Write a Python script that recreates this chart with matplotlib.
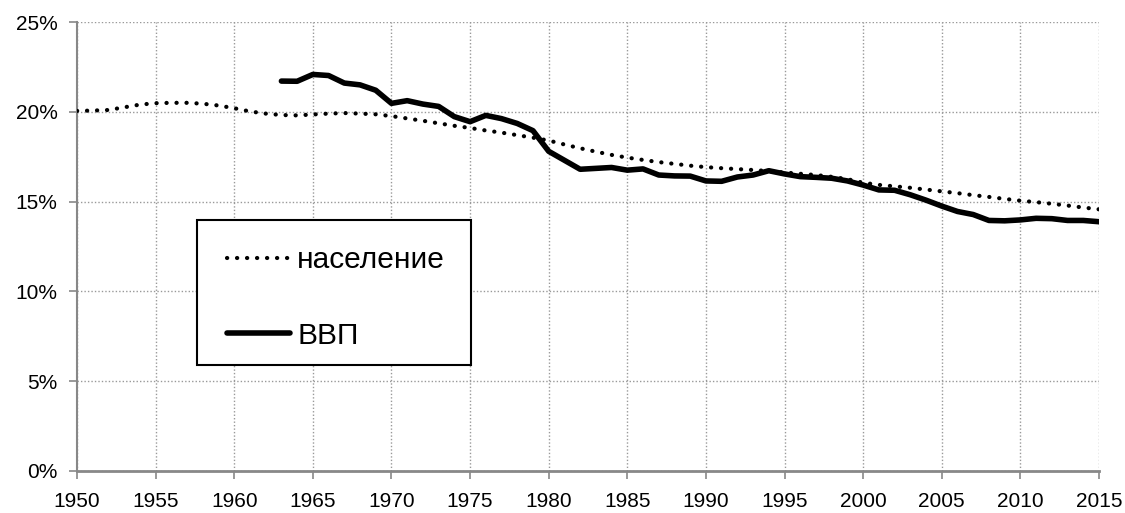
import matplotlib.pyplot as plt
from matplotlib.patches import Rectangle
from matplotlib.ticker import FuncFormatter

# population share, %
pop_years = list(range(1950, 2016))
pop = [20.05, 20.07, 20.1, 20.25, 20.4, 20.48, 20.5, 20.5, 20.45, 20.35,
       20.2, 20.02, 19.9, 19.82, 19.8, 19.85, 19.9, 19.93, 19.9, 19.86,
       19.76, 19.63, 19.5, 19.36, 19.22, 19.1, 18.96, 18.84, 18.7, 18.56,
       18.4, 18.18, 17.97, 17.78, 17.6, 17.45, 17.32, 17.2, 17.1, 17.0,
       16.92, 16.86, 16.81, 16.76, 16.7, 16.62, 16.55, 16.48, 16.38, 16.25,
       16.05, 15.93, 15.85, 15.77, 15.67, 15.57, 15.47, 15.36, 15.26, 15.15,
       15.05, 14.97, 14.88, 14.78, 14.67, 14.57]

# GDP share, %
gdp_years = list(range(1963, 2016))
gdp = [21.71, 21.7, 22.08, 22.02, 21.6, 21.5, 21.2, 20.47, 20.62, 20.43,
       20.3, 19.73, 19.45, 19.8, 19.62, 19.35, 18.95, 17.8, 17.3, 16.8,
       16.85, 16.9, 16.75, 16.82, 16.48, 16.43, 16.42, 16.15, 16.13, 16.37,
       16.48, 16.72, 16.54, 16.39, 16.35, 16.3, 16.15, 15.92, 15.65, 15.63,
       15.38, 15.08, 14.75, 14.45, 14.28, 13.95, 13.93, 13.98, 14.07, 14.05,
       13.95, 13.95, 13.88]

plt.rcParams['font.family'] = ['Liberation Sans', 'DejaVu Sans']

W, H = 1125, 513
fig = plt.figure(figsize=(W / 100, H / 100), dpi=100)
ax = fig.add_axes([77 / W, 1 - 471 / H, 1022 / W, 449 / H])

ax.plot(pop_years, pop, color='black', lw=3.0, linestyle=(0, (0.05, 2.35)),
        dash_capstyle='round', label='население', zorder=3)
ax.plot(gdp_years, gdp, color='black', lw=4.0, solid_capstyle='round',
        solid_joinstyle='round', label='ВВП', zorder=3)

ax.set_xlim(1950, 2015)
ax.set_ylim(0, 25)
ax.set_xticks(range(1950, 2016, 5))
ax.set_yticks(range(0, 26, 5))
ax.yaxis.set_major_formatter(FuncFormatter(lambda v, p: f'{v:.0f}%'))

ax.grid(True, color='#999999', linestyle=(0, (1, 1.5)), lw=1)
ax.set_axisbelow(True)
for s in ['top', 'right']:
    ax.spines[s].set_visible(False)
ax.spines['left'].set_color('#888888')
ax.spines['left'].set_linewidth(1.5)
ax.spines['bottom'].set_color('#888888')
ax.spines['bottom'].set_linewidth(2)
ax.tick_params(axis='both', colors='#888888', labelcolor='black',
               labelsize=15, length=6, width=1.2)
ax.tick_params(axis='x', pad=9)
ax.tick_params(axis='y', pad=8)

# legend box drawn by hand, entries placed inside it
box = Rectangle((197 / W, 1 - 365 / H), 274 / W, 145 / H, transform=fig.transFigure,
                facecolor='white', edgecolor='black', lw=1.5, zorder=4)
ax.add_patch(box)
box.set_clip_on(False)
leg = ax.legend(loc='upper left', bbox_to_anchor=(227 / W, 1 - 246 / H),
                bbox_transform=fig.transFigure, fontsize=21.5, frameon=False,
                handlelength=2.1, handletextpad=0.25, labelspacing=1.6,
                borderpad=0, borderaxespad=0)
leg.set_zorder(5)

plt.savefig('out.png', dpi=100)
